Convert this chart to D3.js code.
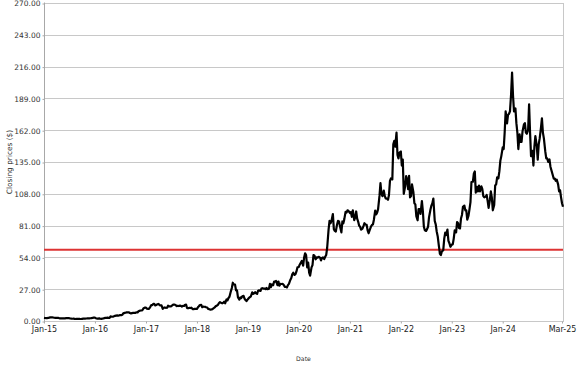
<!DOCTYPE html>
<html>
<head>
<meta charset="utf-8">
<script src="https://cdn.jsdelivr.net/npm/d3@7"></script>
<style>
  html, body { margin: 0; padding: 0; background: #fff; }
  svg { display: block; }
  text { font-family: "DejaVu Sans", sans-serif; }
</style>
</head>
<body>
<svg id="chart" width="577" height="367"></svg>
<script>
// Closing prices, sampled 4 times per month (days 1, 8, 15, 22)
const prices2015 = [2.67,2.55,2.5,2.45, 2.6,2.85,3.1,3.15, 3.1,2.95,2.75,2.7, 2.7,2.75,2.6,2.3, 2.3,2.25,2.3,2.2, 2.3,2.4,2.5,2.4, 2.4,2.1,2.0,1.9, 1.95,1.85,1.7,1.8, 1.75,1.85,1.75,1.7, 1.72,2.0,2.1,2.0, 2.1,2.2,2.3,2.25, 2.35,2.5,2.6,2.87];
const prices2016 = [2.87,2.4,2.1,2.05, 2.2,1.9,1.85,2.0, 2.15,2.4,2.6,2.7, 2.85,2.7,2.65,3.9, 3.6,3.7,3.95,4.3, 4.6,4.7,4.6,4.8, 5.1,5.0,5.3,6.5, 6.9,7.0,7.4,7.45, 7.4,6.8,6.5,6.7, 6.9,7.0,6.8,7.3, 7.2,8.3,8.6,8.9, 8.9,9.5,10.9,11.3];
const prices2017 = [11.3,10.4,10.3,10.2, 12.0,13.6,13.5,14.5, 14.5,13.2,13.6,14.1, 14.5,13.5,13.3,13.2, 10.3,11.2,11.5,11.2, 11.3,13.0,12.4,12.5, 12.5,13.2,13.9,14.0, 13.6,12.6,12.9,12.7, 13.0,12.8,12.3,12.8, 12.8,13.8,13.9,11.0, 10.9,11.2,11.0,11.3, 10.1,10.0,10.4,10.3];
const prices2018 = [10.3,11.6,12.5,13.6, 13.7,11.7,12.2,12.1, 12.0,11.7,11.5,10.3, 10.0,9.6,9.8,10.1, 10.9,11.5,12.5,13.0, 13.7,15.3,16.0,15.5, 15.0,15.4,16.5,15.0, 18.3,17.5,19.5,20.6, 25.2,28.0,32.5,31.0, 30.9,26.0,26.0,20.0, 18.2,20.0,19.5,21.0, 21.3,19.0,17.8,16.9];
const prices2019 = [18.5,19.5,20.3,20.8, 24.4,23.0,23.5,24.5, 23.5,23.0,25.7,26.0, 25.5,27.5,27.9,27.5, 27.6,27.0,28.0,27.0, 27.4,31.5,28.8,31.0, 30.4,33.5,33.5,34.0, 30.4,33.5,30.0,31.5, 31.4,31.5,30.6,29.0, 29.0,28.5,30.5,31.5, 34.9,36.5,39.6,41.0, 39.2,39.7,42.1,45.5];
const prices2020 = [45.9,48.0,49.5,51.0, 47.0,54.0,57.5,56.0, 45.5,49.5,41.0,38.5, 45.5,47.5,56.0,55.5, 52.4,54.0,53.8,54.5, 53.8,51.5,53.5,54.0, 52.6,54.5,56.0,62.0, 77.4,85.0,83.0,85.0, 90.8,78.0,76.5,76.0, 82.0,85.0,84.5,80.5, 75.3,84.5,83.0,86.5, 92.7,92.0,94.0,93.5];
const prices2021 = [91.7,92.5,88.5,94.0, 85.6,88.0,93.0,87.0, 84.5,81.0,80.0,77.5, 78.5,80.5,83.0,82.0, 81.6,77.0,74.5,77.0, 80.1,81.5,82.0,86.0, 93.7,90.5,92.0,95.0, 106.2,117.0,108.0,106.0, 110.7,106.0,104.0,104.0, 102.9,107.0,119.0,121.0, 120.2,150.0,153.0,148.0, 160.0,141.0,138.0,143.0];
const prices2022 = [143.9,132.0,137.0,108.0, 114.3,123.0,120.0,112.0, 123.3,105.0,106.0,116.0, 109.3,100.0,99.0,89.0, 85.5,95.0,95.0,91.0, 101.9,93.0,80.0,77.0, 76.5,78.0,80.0,88.0, 94.5,98.0,100.0,104.0, 84.9,82.0,76.0,72.0, 63.4,57.0,56.0,59.0, 60.1,70.0,75.0,73.0, 77.6,68.0,66.0,63.0];
const prices2023 = [64.8,65.0,70.0,77.0, 75.2,84.0,83.0,79.0, 78.6,87.0,90.0,97.0, 98.0,94.0,94.0,86.0, 89.4,95.0,101.0,118.0, 118.2,125.0,127.0,109.0, 113.9,110.0,115.0,110.0, 114.4,112.0,106.0,105.0, 105.7,107.0,102.0,96.0, 102.8,110.0,105.0,94.0, 98.5,115.0,116.0,122.0, 121.2,127.0,136.0,140.0];
const prices2024 = [147.4,146.0,160.0,178.0, 167.7,175.0,176.0,178.0, 192.5,211.0,191.0,178.0, 180.5,168.0,160.0,146.0, 158.4,152.0,152.0,161.0, 166.9,168.0,160.0,159.0, 162.2,184.0,160.0,140.0, 144.5,132.0,148.0,157.0, 148.6,137.0,150.0,155.0, 164.0,172.0,160.0,155.0, 144.0,138.0,138.0,135.0, 137.2,131.0,128.0,125.0];
const prices2025 = [120.8,121.0,119.0,120.0, 116.0,110.0,111.0,105.0, 100.0,97.0];

const sampleDays = [1, 8, 15, 22];
const thresholdValue = 60.6;

const yTicks = [0, 27, 54, 81, 108, 135, 162, 189, 216, 243, 270];
const xTickLabels = ["Jan-15","Jan-16","Jan-17","Jan-18","Jan-19","Jan-20","Jan-21","Jan-22","Jan-23","Jan-24","Mar-25"];
const xTickDates = ["2015-01-01","2016-01-01","2017-01-01","2018-01-01","2019-01-01","2020-01-01","2021-01-01","2022-01-01","2023-01-01","2024-01-01","2025-03-01"];

const yearly = [
  [2015, prices2015],[2016, prices2016],[2017, prices2017],[2018, prices2018],
  [2019, prices2019],[2020, prices2020],[2021, prices2021],[2022, prices2022],
  [2023, prices2023],[2024, prices2024],[2025, prices2025]
];
const data = [];
yearly.forEach(([yr, arr]) => {
  arr.forEach((v, i) => {
    const m = Math.floor(i / 4), d = sampleDays[i % 4];
    data.push({ date: new Date(yr, m, d), value: v });
  });
});

const parse = d3.timeParse("%Y-%m-%d");
const svg = d3.select("#chart");
const L = 44, R = 563, T = 3, B = 321;

const x = d3.scaleTime()
  .domain([new Date(2015, 0, 1), new Date(2025, 2, 8)])
  .range([L, R]);
const y = d3.scaleLinear().domain([0, 270]).range([B, T]);

// gridlines
svg.append("g").selectAll("line").data(yTicks).join("line")
  .attr("x1", L).attr("x2", R)
  .attr("y1", d => Math.round(y(d)) + 0.5).attr("y2", d => Math.round(y(d)) + 0.5)
  .attr("stroke", "#c8c8c8").attr("stroke-width", 1);

// right border
svg.append("line").attr("x1", R + 0.5).attr("x2", R + 0.5).attr("y1", T).attr("y2", B + 1)
  .attr("stroke", "#c8c8c8");

// y axis
const yAxis = d3.axisLeft(y).tickValues(yTicks).tickFormat(d3.format(".2f"))
  .tickSize(2).tickPadding(2);
const gy = svg.append("g").attr("transform", `translate(${L + 0.5},0.5)`).call(yAxis);
gy.select(".domain").attr("stroke", "#a8a8a8").attr("d", `M0,${T - 1}V${B + 1}`);
gy.selectAll(".tick line").attr("stroke", "#a8a8a8");
gy.selectAll(".tick text").attr("font-size", 7.5).attr("fill", "#333")
  .attr("font-family", "DejaVu Sans, sans-serif");

// x axis
const xAxis = d3.axisBottom(x).tickValues(xTickDates.map(parse))
  .tickFormat((d, i) => xTickLabels[i]).tickSize(2).tickPadding(3);
const gx = svg.append("g").attr("transform", `translate(0,${B + 0.5})`).call(xAxis);
gx.select(".domain").remove();
gx.selectAll(".tick line").attr("stroke", "#a8a8a8");
gx.selectAll(".tick text").attr("font-size", 8).attr("fill", "#222")
  .attr("font-family", "DejaVu Sans, sans-serif");

// threshold line
svg.append("line")
  .attr("x1", L).attr("x2", R)
  .attr("y1", y(thresholdValue)).attr("y2", y(thresholdValue))
  .attr("stroke", "#dd3333").attr("stroke-width", 2);

// price line
const line = d3.line().x(d => x(d.date)).y(d => y(d.value));
svg.append("path").datum(data)
  .attr("fill", "none").attr("stroke", "#000").attr("stroke-width", 2.2)
  .attr("stroke-linejoin", "round")
  .attr("d", line);

// axis titles
svg.append("text")
  .attr("transform", `translate(12,${(T + B) / 2}) rotate(-90)`)
  .attr("text-anchor", "middle").attr("font-size", 7.4).attr("fill", "#333")
  .text("Closing prices ($)");
svg.append("text")
  .attr("x", (L + R) / 2).attr("y", 361)
  .attr("text-anchor", "middle").attr("font-size", 6.2).attr("fill", "#333")
  .text("Date");
</script>
</body>
</html>
